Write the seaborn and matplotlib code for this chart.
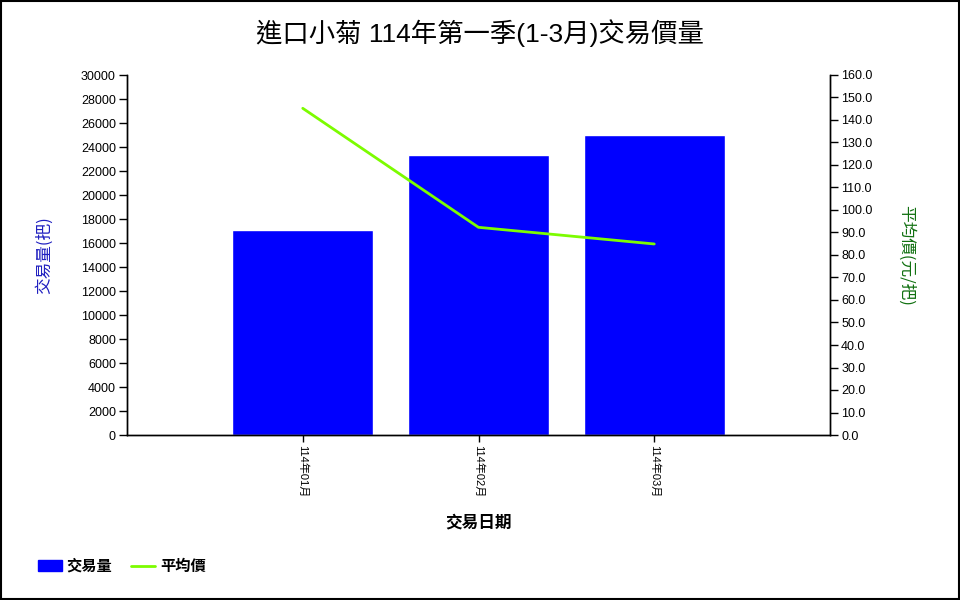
import numpy as np
import pandas as pd
import matplotlib
matplotlib.use("Agg")
import matplotlib.pyplot as plt
import seaborn as sns
from matplotlib.patches import Rectangle, Patch
from matplotlib.lines import Line2D

# ---------------------------------------------
# DATA
# ---------------------------------------------
months = ["114年01月", "114年02月", "114年03月"]
volume = [17080, 23340, 25010]      # 交易量(把)
avg_price = [145.2, 92.3, 84.9]     # 平均價(元/把)

BAR_COLOR = "#0000FF"
LINE_COLOR = "#7CFC00"

sns.set_style("white")
plt.rcParams["font.family"] = ["Liberation Sans", "Noto Sans CJK TC", "DejaVu Sans"]
plt.rcParams["text.color"] = "black"
plt.rcParams["xtick.color"] = "black"
plt.rcParams["ytick.color"] = "black"
plt.rcParams["axes.labelcolor"] = "black"

df = pd.DataFrame({"month": months, "volume": volume, "price": avg_price})
df["pos"] = np.arange(len(df))

fig = plt.figure(figsize=(9.6, 6), dpi=100)
ax = fig.add_axes([127 / 960, 1 - 435 / 600, 703 / 960, 360 / 600])
ax2 = ax.twinx()

sns.barplot(data=df, x="month", y="volume", color=BAR_COLOR, saturation=1,
            width=0.8, ax=ax)
sns.lineplot(data=df, x="pos", y="price", color=LINE_COLOR, linewidth=2,
             ax=ax2)

ax.set_xlim(-1, 3)
ax.set_ylim(0, 30000)
ax.set_yticks(np.arange(0, 30001, 2000))
ax2.set_ylim(0, 160)
ax2.set_yticks(np.arange(0, 161, 10))
ax2.set_yticklabels([f"{v:.1f}" for v in np.arange(0, 161, 10)])

for a in (ax, ax2):
    a.spines["top"].set_visible(False)
    for s in ("left", "right", "bottom"):
        a.spines[s].set_color("black")
        a.spines[s].set_linewidth(1)
    a.grid(False)

ax.set_xticks(df["pos"])
ax.set_xticklabels(months, rotation=270, fontsize=8)
ax.tick_params(axis="x", direction="out", length=5, width=1, color="black",
               bottom=True, pad=2)
ax.tick_params(axis="y", direction="out", length=6, width=1, color="black",
               left=True, labelsize=9, pad=2)
ax2.tick_params(axis="y", direction="out", length=6, width=1, color="black",
                right=True, labelsize=9, pad=2)

ax.set_xlabel("交易日期", fontsize=12, family=["Noto Sans CJK TC"],
              fontweight="bold", labelpad=12)
ax2.set_xlabel("")
ax.set_ylabel("交易量(把)", fontsize=12, color="#2020C0",
              family=["Noto Sans CJK TC"])
ax2.set_ylabel("平均價(元/把)", fontsize=12, color="#107010", rotation=270,
               family=["Noto Sans CJK TC"])
ax.yaxis.set_label_coords(-0.105, 0.5)
ax2.yaxis.set_label_coords(1.12, 0.5)

fig.text(0.5, 1 - 33 / 600, "進口小菊 114年第一季(1-3月)交易價量", ha="center",
         va="center", fontsize=19, family=["Liberation Sans", "Noto Sans CJK TC"])

handles = [Patch(facecolor=BAR_COLOR, edgecolor=BAR_COLOR),
           Line2D([0], [0], color=LINE_COLOR, linewidth=2)]
fig.legend(handles, ["交易量", "平均價"], loc="center left",
           bbox_to_anchor=(24 / 960, 1 - 566 / 600), ncol=2, frameon=False,
           prop={"family": ["Noto Sans CJK TC"], "weight": "bold", "size": 11},
           handlelength=1.6, handletextpad=0.3, columnspacing=1.2)

fig.patches.append(Rectangle((0.001, 0.001), 0.998, 0.997, transform=fig.transFigure,
                             fill=False, edgecolor="black", linewidth=1.5))

fig.savefig("out.png", dpi=100)
